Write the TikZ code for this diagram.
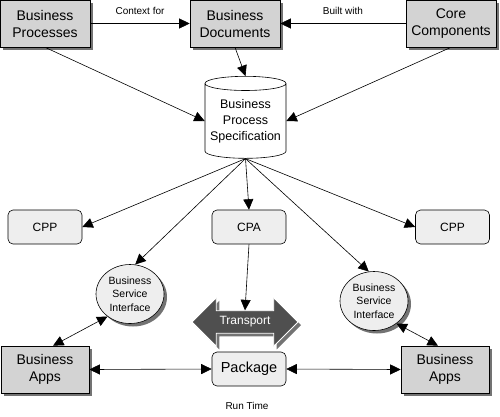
\documentclass[tikz,border=0pt]{standalone}
\usepackage{fontspec}
\setmainfont{Liberation Sans}
\usepackage{xcolor}
\definecolor{boxg}{HTML}{D3D3D3}
\definecolor{soft}{HTML}{EEEEEE}
\definecolor{dark}{HTML}{4F4F4F}
\usetikzlibrary{arrows.meta,positioning,shapes.geometric,shapes.arrows,shadows}
\tikzset{
  >={Triangle[length=10.5pt,width=10pt]},
  shad/.style={drop shadow={shadow xshift=3pt,shadow yshift=-3pt,fill=black!55,opacity=1}},
  gbox/.style={draw,line width=0.6pt,fill=boxg,shad,minimum width=90,minimum height=47,inner sep=0pt,align=center,font=\fontsize{14}{17}\selectfont},
  rbox/.style={draw,line width=0.6pt,fill=soft,rounded corners=5pt,minimum width=74,minimum height=34,inner sep=0pt,align=center,font=\fontsize{12}{14}\selectfont},
  bsi/.style={ellipse,draw,line width=0.6pt,fill=soft,shad,minimum width=68,minimum height=59,inner sep=0pt,align=center,font=\fontsize{10.5}{13.5}\selectfont},
  lab/.style={font=\fontsize{10}{12}\selectfont},
  arr/.style={->,line width=0.6pt},
  darr/.style={<->,line width=0.6pt},
}
\begin{document}
\begin{tikzpicture}[x=1pt,y=-1pt]
\useasboundingbox (0,0) rectangle (500,416);
% top row
\node[gbox] (bp) at (45,23.5) {Business\\Processes};
\node[gbox] (bd) at (235,23.5) {Business\\Documents};
\node[gbox] (cc) at (451,23.5) {Core\\Components};
\node[cylinder,shape border rotate=90,aspect=0.2,draw,line width=0.6pt,fill=white,minimum width=81,minimum height=82,inner sep=0pt,align=center,font=\fontsize{12.5}{16}\selectfont] (bps) at (245.5,121) {Business\\Process\\Specification};
% middle row
\node[rbox] (cppl) at (45,227) {CPP};
\node[rbox] (cpa) at (249,227) {CPA};
\node[rbox] (cppr) at (452.5,227) {CPP};
\node[bsi] (bsil) at (130,294) {Business\\Service\\Interface};
\node[bsi] (bsir) at (374,301) {Business\\Service\\Interface};
\node[double arrow,draw=white,line width=0.8pt,fill=dark,shad,text=white,minimum height=106,inner xsep=2pt,inner ysep=5.5pt,double arrow head extend=13pt,font=\fontsize{12}{14}\selectfont] (trans) at (245,322) {Transport};
% bottom row
\node[rbox,font=\fontsize{14.5}{17}\selectfont] (pkg) at (249,369) {Package};
\node[gbox,minimum width=88] (bal) at (45,369.5) {Business\\Apps};
\node[gbox,minimum width=88] (bar) at (445,369.5) {Business\\Apps};
\node[lab] (rt) at (247,406) {Run Time};

\draw[arr] (bp.east) -- node[lab,above=5pt]{Context for} (bd.west);
\draw[arr] (cc.west) -- node[lab,above=5pt]{Built with} (bd.east);
\draw[arr] (bp.south) -- (bps.west);
\draw[arr] (bd.south) -- (bps.north);
\draw[arr] (cc.south) -- (bps.east);
\foreach \t in {cppl.east,bsil.80,cpa.north,bsir.100,cppr.west}
  \draw[arr] (bps.south) -- (\t);
\draw[arr] (cpa.south) -- (trans.north);
\draw[darr] ([xshift=8pt]bal.north) -- (bsil.225);
\draw[darr] ([xshift=-7pt]bar.north) -- (bsir.-45);
\draw[darr] (bal.east) -- (pkg.west);
\draw[darr] (pkg.east) -- (bar.west);
\end{tikzpicture}
\end{document}
